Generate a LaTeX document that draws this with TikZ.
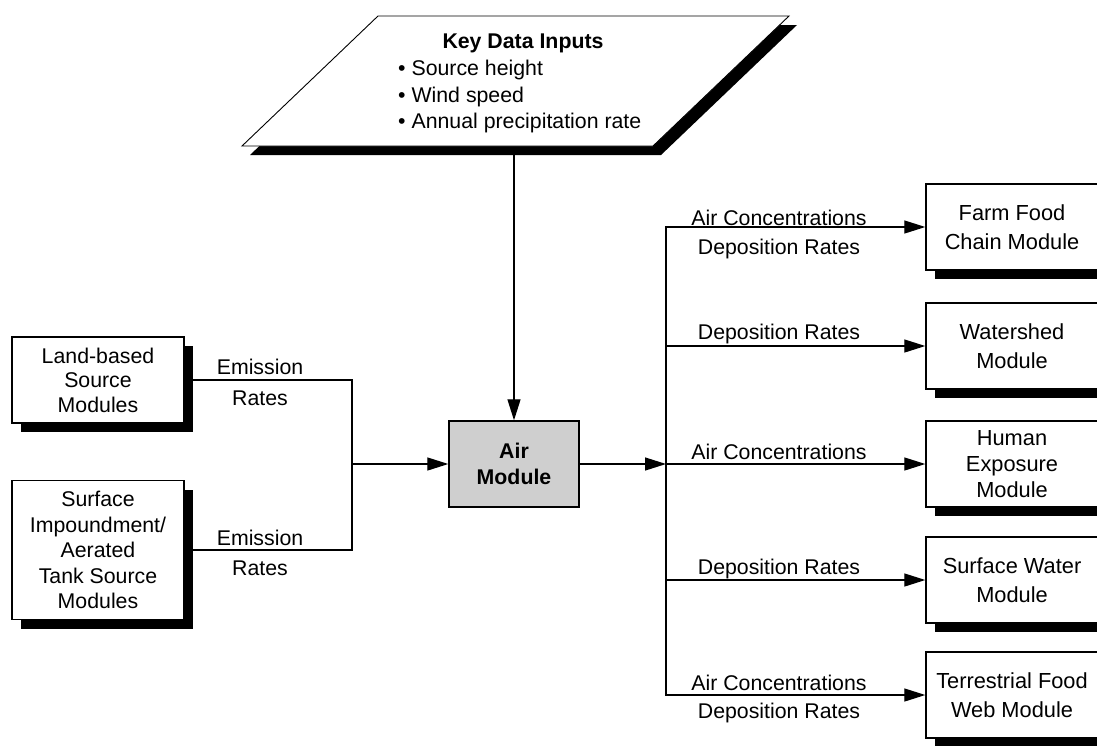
\documentclass[tikz,border=0pt]{standalone}
\usepackage{fontspec}
\setmainfont{Liberation Sans}
\usetikzlibrary{arrows.meta,shadows}
\begin{document}
\begin{tikzpicture}[x=1pt,y=-1pt,
  txt/.style={font=\fontsize{21.3}{24.5}\selectfont, align=center, inner sep=0pt},
  modbox/.style={txt, draw=black, line width=1.4pt, fill=white,
    minimum width=172pt, minimum height=86pt,
    drop shadow={shadow xshift=9pt, shadow yshift=-9pt, fill=black, opacity=1}},
  widebox/.style={modbox, font=\fontsize{21.8}{29}\selectfont},
  airbox/.style={txt, draw=black, line width=1.4pt, fill=black!19,
    minimum width=130pt, minimum height=86pt, font=\fontsize{21.3}{26}\selectfont\bfseries},
  conn/.style={line width=1.3pt},
  arr/.style={conn, -{Triangle[length=21pt,width=13pt]}},
  lbl/.style={txt}
]
\useasboundingbox (0,0) rectangle (1097,745);

% Key data inputs (parallelogram with shadow)
\fill[black] (250,155) -- (661,155) -- (797,25) -- (386,25) -- cycle;
\draw[fill=white, line width=0.9pt] (242,146) -- (653,146) -- (789,16) -- (378,16) -- cycle;
\node[txt, font=\fontsize{21.3}{24.5}\selectfont\bfseries] (kdtitle) at (523,43) {Key Data Inputs};
\node[txt, align=left, anchor=north west, font=\fontsize{21.3}{26.5}\selectfont] (kdlist) at (398,60)
  {\textbullet\ Source height\\ \textbullet\ Wind speed\\ \textbullet\ Annual precipitation rate};
\coordinate (kd) at (514,155);

% Central module
\node[airbox] (air) at (514,464) {Air\\Module};

% Source modules
\node[modbox] (land) at (98,380) {Land-based\\Source\\Modules};
\node[modbox, minimum height=139pt, font=\fontsize{21.3}{25.5}\selectfont] (imp) at (98,550) {Surface\\Impoundment/\\Aerated\\Tank Source\\Modules};

% Receiving modules
\node[widebox] (farm) at (1012,227) {Farm Food\\Chain Module};
\node[widebox] (water) at (1012,346) {Watershed\\Module};
\node[modbox, font=\fontsize{21.8}{26}\selectfont] (human) at (1012,464) {Human\\Exposure\\Module};
\node[widebox] (surf) at (1012,580) {Surface Water\\Module};
\node[widebox] (terr) at (1012,695) {Terrestrial Food\\Web Module};

% Junctions
\coordinate (lj) at (352,464);
\coordinate (rj) at (666,464);

% Connectors
\draw[arr] (kd) -- (air.north);
\draw[conn] (land.east) -| (lj);
\draw[conn] (imp.east) -| (lj);
\draw[arr] (lj) -- (air.west);
\draw[arr] (air.east) -- (rj);
\draw[arr] (rj) |- (farm.west);
\draw[arr] (rj) |- (water.west);
\draw[arr] (rj) -- (human.west);
\draw[arr] (rj) |- (surf.west);
\draw[arr] (rj) |- (terr.west);

% Connector labels
\node[lbl] (e1a) at (260,367) {Emission};
\node[lbl] (e1b) at (260,398) {Rates};
\node[lbl] (e2a) at (260,538) {Emission};
\node[lbl] (e2b) at (260,568) {Rates};
\node[lbl] (f1) at (779,218) {Air Concentrations};
\node[lbl] (f2) at (779,249) {Deposition Rates};
\node[lbl] (w1) at (779,334) {Deposition Rates};
\node[lbl] (h1) at (779,452) {Air Concentrations};
\node[lbl] (s1) at (779,569) {Deposition Rates};
\node[lbl] (t1) at (779,683) {Air Concentrations};
\node[lbl] (t2) at (779,713) {Deposition Rates};
\end{tikzpicture}
\end{document}
